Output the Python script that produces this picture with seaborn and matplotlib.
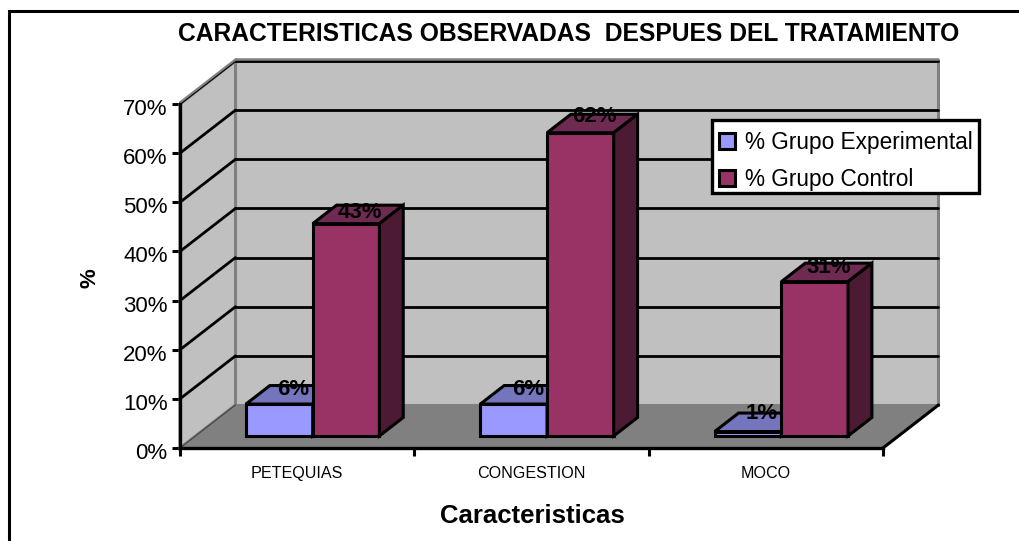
import matplotlib
matplotlib.use("Agg")
import matplotlib.pyplot as plt
from matplotlib.lines import Line2D
from matplotlib.patches import Polygon, Rectangle
from matplotlib.transforms import Affine2D, IdentityTransform
import pandas as pd
import seaborn as sns

categories = ["PETEQUIAS", "CONGESTION", "MOCO"]
exp_values = [6.5, 6.5, 0.9]
ctrl_values = [43.2, 61.7, 31.4]
exp_labels = ["6%", "6%", "1%"]
ctrl_labels = ["43%", "62%", "31%"]
y_ticks = [0, 10, 20, 30, 40, 50, 60, 70]
y_tick_labels = ["0%", "10%", "20%", "30%", "40%", "50%", "60%", "70%"]
groups = ["% Grupo Experimental", "% Grupo Control"]

sns.set_style("white")
plt.rcParams["font.family"] = ["Liberation Sans", "DejaVu Sans"]
plt.rcParams["text.color"] = "k"
plt.rcParams["axes.labelcolor"] = "k"
plt.rcParams["xtick.color"] = "k"
plt.rcParams["ytick.color"] = "k"

W, H = 1019, 541
# fake 3d depth of the chart box, in pixels
DX, DY = 55.5, 43
BAR_FRONT = 0.28
BAR_BACK = 0.71
# how far each value label sits above the front edge of its bar top, pixels
LABEL_UP = [[15, 15, 18], [11, 16, 14]]

df = pd.DataFrame({
    "Caracteristicas": categories * 2,
    "valor": exp_values + ctrl_values,
    "grupo": [groups[0]] * 3 + [groups[1]] * 3,
})

fig = plt.figure(figsize=(W / 100, H / 100), dpi=100)
ax = fig.add_axes([180 / W, 1 - 448 / H, 703 / W, 344 / H])
ax.patch.set_visible(False)

sns.barplot(data=df, x="Caracteristicas", y="valor", hue="grupo", hue_order=groups,
            palette=["#9999FF", "#993366"], saturation=1, width=0.569, gap=0,
            edgecolor="k", linewidth=2.2, errorbar=None, ax=ax)
ax.set_xlim(-0.5, 2.5)
ax.set_ylim(0, 70)


def pt(x, y, d):
    px, py = ax.transData.transform((x, y))
    return px + DX * d, py + DY * d


def face(points, color, z, edge="k", lw=2.2):
    ax.add_patch(Polygon(points, closed=True, facecolor=color, edgecolor=edge, linewidth=lw,
                         transform=IdentityTransform(), clip_on=False, zorder=z, joinstyle="miter"))


def line(p0, p1, color="k", lw=2.0, z=1.5, up=0):
    ax.add_line(Line2D([p0[0], p1[0]], [p0[1] + up, p1[1] + up], color=color, linewidth=lw,
                       transform=IdentityTransform(), clip_on=False, zorder=z))


# walls and floor
face([pt(-0.5, 0, 1), pt(2.5, 0, 1), pt(2.5, 70, 1), pt(-0.5, 70, 1)], "#C0C0C0", 0.5, "#808080", 2.2)
face([pt(-0.5, 0, 0), pt(-0.5, 0, 1), pt(-0.5, 70, 1), pt(-0.5, 70, 0)], "#C0C0C0", 0.6, "#808080", 2.2)
face([pt(-0.5, 0, 0), pt(-0.5, 0, 1), pt(2.5, 0, 1), pt(2.5, 0, 0)], "#808080", 0.7, "#808080", 1)
line(pt(2.5, 0, 0), pt(2.5, 0, 1), lw=2.2)
line(pt(-0.5, 0, 0), pt(-0.5, 0, 1), color="#404040", lw=0.8)

for t in y_ticks[1:]:
    line(pt(-0.5, t, 0), pt(-0.5, t, 1), lw=1.4 if t == 70 else 2.0)
    line(pt(-0.5, t, 1), pt(2.5, t, 1))
# the top edge of the box is grey over the last gridline
line(pt(-0.5, 70, 0), pt(-0.5, 70, 1), color="#808080", lw=1.6, z=1.6, up=1.5)
line(pt(-0.5, 70, 1), pt(2.5, 70, 1), color="#808080", lw=1.8, z=1.6, up=2)

# bars come from seaborn, shift the front faces back and add top and side
shift = Affine2D().translate(DX * BAR_FRONT, DY * BAR_FRONT)
tops = ["#7575BD", "#6F2A52"]
sides = ["#5C5C99", "#4C1A33"]
for k, cont in enumerate(ax.containers[:2]):
    labels = [exp_labels, ctrl_labels][k]
    for i, (bar, lab) in enumerate(zip(cont, labels)):
        x0, x1, h = bar.get_x(), bar.get_x() + bar.get_width(), bar.get_height()
        bar.set_transform(ax.transData + shift)
        bar.set_clip_on(False)
        bar.set_zorder(3 + k)
        face([pt(x0, h, BAR_FRONT), pt(x1, h, BAR_FRONT), pt(x1, h, BAR_BACK), pt(x0, h, BAR_BACK)], tops[k], 3 + k)
        face([pt(x1, 0, BAR_FRONT), pt(x1, h, BAR_FRONT), pt(x1, h, BAR_BACK), pt(x1, 0, BAR_BACK)], sides[k], 3 + k)
        lx, ly = pt((x0 + x1) / 2, h, BAR_FRONT)
        ax.text(lx + 14, ly + LABEL_UP[k][i], lab, transform=IdentityTransform(), ha="center", va="center",
                fontsize=16, fontweight="bold", color="k", zorder=6, clip_on=False)

# axes
sns.despine(ax=ax)
for s in ["left", "bottom"]:
    ax.spines[s].set_linewidth(2.4)
    ax.spines[s].set_color("k")
    ax.spines[s].set_zorder(5)
ax.set_yticks(y_ticks, labels=y_tick_labels)
ax.set_xticks([-0.5, 0.5, 1.5, 2.5], labels=["", "", "", ""])
ax.set_xticks([0, 1, 2], labels=categories, minor=True)
ax.tick_params(axis="y", length=6, width=2.2, color="k", labelsize=16, pad=3, left=True)
ax.tick_params(axis="x", which="major", length=5.5, width=2.2, color="k", bottom=True)
ax.tick_params(axis="x", which="minor", length=0, labelsize=11.6, pad=13)
for lab in ax.get_yticklabels():
    lab.set_transform(lab.get_transform() + Affine2D().translate(0, -3))

ax.set_ylabel("%", fontsize=16, fontweight="bold", va="center")
ax.yaxis.set_label_coords((90 - 180) / 703, (448 - 278) / 344)
ax.set_xlabel("Caracteristicas", fontsize=18.5, fontweight="bold", va="center")
ax.xaxis.set_label_coords((532 - 180) / 703, -(516 - 448) / 344)
fig.text(569 / W, 1 - 34 / H, "CARACTERISTICAS OBSERVADAS  DESPUES DEL TRATAMIENTO",
         ha="center", va="center", fontsize=17.7, fontweight="bold")

# legend frame is drawn apart so the rows can sit where they should inside it
ax.add_patch(Rectangle((712, H - 193), 267, 73, transform=IdentityTransform(), facecolor="w",
                       edgecolor="k", linewidth=2.4, clip_on=False, zorder=9))
handles, labs = ax.get_legend_handles_labels()
leg = ax.legend(handles, labs, loc="upper left", bbox_to_anchor=(719 / W, 1 - 130.5 / H),
                bbox_transform=fig.transFigure, fontsize=16.3, frameon=False,
                handlelength=0.72, handleheight=0.72, handletextpad=0.42, labelspacing=0.62,
                borderpad=0, borderaxespad=0)
leg.set_zorder(10)
for h in leg.get_patches():
    h.set_edgecolor("k")
    h.set_linewidth(2.2)

# outer border, runs off the right and bottom of the picture
fig.add_artist(Rectangle((8.5 / W, -0.1), 1.2, 1.1 - 11.5 / H, transform=fig.transFigure, fill=False,
                         edgecolor="k", linewidth=2.2))

fig.savefig("out.png", dpi=100)
